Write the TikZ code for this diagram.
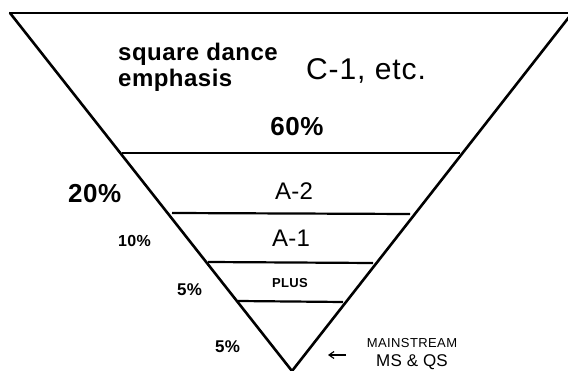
\documentclass[tikz,border=0pt]{standalone}
\usepackage{fontspec}
\setmainfont{Liberation Sans}
\usetikzlibrary{arrows.meta}
\newcommand{\fsz}[2]{\fontsize{#1}{#1}\selectfont\addfontfeature{LetterSpace=#2}}
\begin{document}
\begin{tikzpicture}[x=1pt,y=-1pt,
  side/.style={line width=2.6pt, line cap=round, line join=miter},
  level/.style={line width=2.2pt},
  txt/.style={inner sep=0pt}]
\useasboundingbox (0,0) rectangle (568,371);
% funnel
\coordinate (tl) at (10,13);
\coordinate (tr) at (574,13);
\coordinate (apex) at (292,371);
\draw[line width=2pt] (tl) -- (tr);
\draw[side] (tl) -- (apex) -- (573,12);
% level lines
\draw[level] (122,153) -- (460,153);
\draw[level] (172,213) -- (410,214);
\draw[level] (208,262) -- (373,263);
\draw[level] (238,301) -- (343,302);
% texts
\node[txt, anchor=base west, font=\fsz{24}{2}\bfseries] (sd) at (118,61) {square dance};
\node[txt, anchor=base west, font=\fsz{24}{2}\bfseries] (em) at (118,87) {emphasis};
\node[txt, anchor=base west, font=\fsz{30}{3}] (c1) at (306,80) {C-1, etc.};
\node[txt, anchor=base, font=\fsz{26}{2}\bfseries] (p60) at (297,136) {60\%};
\node[txt, anchor=base west, font=\fsz{26}{2}\bfseries] (p20) at (68,203) {20\%};
\node[txt, anchor=base, font=\fsz{24}{1}] (a2) at (294,200) {A-2};
\node[txt, anchor=base west, font=\fsz{16}{2}\bfseries] (p10) at (118,247) {10\%};
\node[txt, anchor=base, font=\fsz{24}{1}] (a1) at (291,247) {A-1};
\node[txt, anchor=base west, font=\fsz{17}{2}\bfseries] (p5a) at (177,296) {5\%};
\node[txt, anchor=base, font=\fsz{13}{3}\bfseries] (plus) at (290,288) {PLUS};
\node[txt, anchor=base west, font=\fsz{17}{2}\bfseries] (p5b) at (215,353) {5\%};
\node[txt, anchor=base, font=\fsz{13}{3}] (ms1) at (412,348) {MAINSTREAM};
\node[txt, anchor=base, font=\fsz{17}{1}] (ms2) at (412,367) {MS \& QS};
\coordinate (arS) at (346,355);
\coordinate (arE) at (328,355);
\draw[line width=1.2pt, -{Straight Barb[length=5pt,width=7pt]}] (arS) -- (arE);
\end{tikzpicture}
\end{document}
